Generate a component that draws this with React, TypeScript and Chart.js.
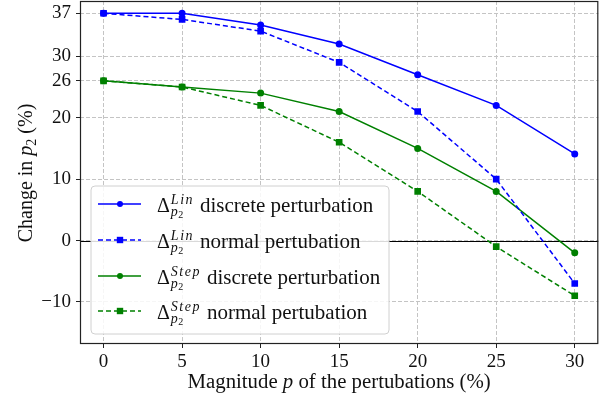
import React, { useEffect, useRef } from "react";
import { Chart, registerables } from "chart.js";
Chart.register(...registerables);

const magnitudes = [0, 5, 10, 15, 20, 25, 30];
const linDiscrete = [37, 37, 35.1, 32, 27, 22, 14.1];
const linNormal = [37, 36, 34.1, 29, 21, 10, -7];
const stepDiscrete = [26, 25, 24, 21, 15, 8, -2];
const stepNormal = [26, 25, 22, 16, 8, -1, -9];
const yTicks = [-10, 0, 10, 20, 26, 30, 37];
const xTicks = [0, 5, 10, 15, 20, 25, 30];

const legendEntries = [
  { sup: "Lin", text: "discrete perturbation", color: "#0000ff", dashed: false, marker: "circle" },
  { sup: "Lin", text: "normal pertubation", color: "#0000ff", dashed: true, marker: "rect" },
  { sup: "Step", text: "discrete perturbation", color: "#008000", dashed: false, marker: "circle" },
  { sup: "Step", text: "normal pertubation", color: "#008000", dashed: true, marker: "rect" },
];

const SERIF = "'Liberation Serif', 'Times New Roman', serif";
const DASH = [5, 3];

function pts(vals: number[]) {
  return magnitudes.map((x, i) => ({ x, y: vals[i] }));
}

function drawMarker(ctx: CanvasRenderingContext2D, kind: string, x: number, y: number, color: string) {
  ctx.fillStyle = color;
  ctx.beginPath();
  if (kind === "circle") ctx.arc(x, y, 3, 0, Math.PI * 2);
  else ctx.rect(x - 3.2, y - 3.2, 6.4, 6.4);
  ctx.fill();
}

const overlay = {
  id: "overlay",
  beforeDatasetsDraw(chart: any) {
    const { ctx, chartArea, scales } = chart;
    const y0 = Math.round(scales.y.getPixelForValue(0)) + 0.5;
    ctx.save();
    ctx.strokeStyle = "#000";
    ctx.lineWidth = 1;
    ctx.beginPath();
    ctx.moveTo(chartArea.left, y0);
    ctx.lineTo(chartArea.right, y0);
    ctx.stroke();
    ctx.restore();
  },
  afterDraw(chart: any) {
    const { ctx, chartArea } = chart;
    ctx.save();
    // frame
    ctx.strokeStyle = "#222";
    ctx.lineWidth = 1.2;
    ctx.strokeRect(chartArea.left + 0.5, chartArea.top + 0.5, chartArea.right - chartArea.left - 1, chartArea.bottom - chartArea.top - 1);

    // legend
    const lx = 91, ly = 186, lw = 298, lh = 148, r = 4;
    ctx.beginPath();
    ctx.moveTo(lx + r, ly);
    ctx.arcTo(lx + lw, ly, lx + lw, ly + lh, r);
    ctx.arcTo(lx + lw, ly + lh, lx, ly + lh, r);
    ctx.arcTo(lx, ly + lh, lx, ly, r);
    ctx.arcTo(lx, ly, lx + lw, ly, r);
    ctx.closePath();
    ctx.fillStyle = "rgba(255,255,255,0.85)";
    ctx.fill();
    ctx.lineWidth = 1;
    ctx.strokeStyle = "#d0d0d0";
    ctx.stroke();

    const rows = [204, 240, 276, 311];
    legendEntries.forEach((e, i) => {
      const ry = rows[i];
      ctx.strokeStyle = e.color;
      ctx.lineWidth = 1.5;
      ctx.setLineDash(e.dashed ? DASH : []);
      ctx.beginPath();
      ctx.moveTo(98, ry);
      ctx.lineTo(141, ry);
      ctx.stroke();
      ctx.setLineDash([]);
      drawMarker(ctx, e.marker, 120, ry, e.color);

      ctx.fillStyle = "#111";
      ctx.textBaseline = "alphabetic";
      ctx.textAlign = "left";
      ctx.font = `20px ${SERIF}`;
      ctx.fillText("Δ", 157, ry + 8);
      const dx = 157 + ctx.measureText("Δ").width + 1;
      ctx.font = `italic 14px ${SERIF}`;
      (ctx as any).letterSpacing = "1.5px";
      ctx.fillText(e.sup, dx, ry);
      const supW = ctx.measureText(e.sup).width;
      (ctx as any).letterSpacing = "0px";
      ctx.fillText("p", dx, ry + 12);
      const pW = ctx.measureText("p").width;
      ctx.font = `10px ${SERIF}`;
      ctx.fillText("2", dx + pW + 0.5, ry + 14);
      const subW = pW + 0.5 + ctx.measureText("2").width;
      ctx.font = `21px ${SERIF}`;
      ctx.fillText(e.text, dx + Math.max(supW, subW) + 6, ry + 8);
    });

    // x title
    ctx.fillStyle = "#111";
    ctx.textBaseline = "alphabetic";
    const parts: [string, string][] = [
      ["Magnitude ", `20.8px ${SERIF}`],
      ["p", `italic 20.8px ${SERIF}`],
      [" of the pertubations (%)", `20.8px ${SERIF}`],
    ];
    let total = 0;
    parts.forEach(([t, f]) => { ctx.font = f; total += ctx.measureText(t).width; });
    let x = (chartArea.left + chartArea.right) / 2 - total / 2;
    parts.forEach(([t, f]) => { ctx.font = f; ctx.fillText(t, x, 388); x += ctx.measureText(t).width; });

    // y title
    ctx.save();
    ctx.translate(31.5, 173);
    ctx.rotate(-Math.PI / 2);
    const yparts: [string, string, number][] = [
      ["Change in ", `20px ${SERIF}`, 0],
      ["p", `italic 20px ${SERIF}`, 0],
      ["2", `14px ${SERIF}`, 4],
      [" (%)", `20px ${SERIF}`, 0],
    ];
    total = 0;
    yparts.forEach(([t, f]) => { ctx.font = f; total += ctx.measureText(t).width; });
    x = -total / 2;
    yparts.forEach(([t, f, dy]) => { ctx.font = f; ctx.fillText(t, x, dy); x += ctx.measureText(t).width; });
    ctx.restore();

    ctx.restore();
  },
};

export default function App() {
  const ref = useRef<HTMLCanvasElement>(null);
  useEffect(() => {
    document.body.style.margin = "0";
    const ds = (label: string, vals: number[], color: string, dashed: boolean, marker: string) => ({
      label,
      data: pts(vals),
      borderColor: color,
      backgroundColor: color,
      borderWidth: 1.5,
      borderDash: dashed ? DASH : [],
      pointStyle: marker,
      pointRadius: marker === "circle" ? 3.5 : 4.7,
      pointBorderWidth: 0,
      tension: 0,
    });
    const gridCommon = {
      color: "#c4c4c4",
      lineWidth: 1,
      tickLength: 4,
      tickColor: "#222",
      tickBorderDash: [],
    };
    const chart = new Chart(ref.current!, {
      type: "line",
      data: {
        datasets: [
          ds("lin discrete", linDiscrete, "#0000ff", false, "circle"),
          ds("lin normal", linNormal, "#0000ff", true, "rect"),
          ds("step discrete", stepDiscrete, "#008000", false, "circle"),
          ds("step normal", stepNormal, "#008000", true, "rect"),
        ],
      },
      options: {
        animation: false,
        responsive: false,
        layout: { padding: { top: 1, right: 4, left: 0, bottom: 0 } },
        plugins: { legend: { display: false }, tooltip: { enabled: false } },
        scales: {
          x: {
            type: "linear",
            min: -1.5,
            max: 31.5,
            afterBuildTicks: (s: any) => { s.ticks = xTicks.map((v) => ({ value: v })); },
            afterFit: (s: any) => { s.height = 54; s.paddingLeft = 0; s.paddingRight = 0; },
            grid: gridCommon,
            border: { display: false, dash: [4, 2] },
            ticks: { color: "#111", font: { family: SERIF, size: 19 }, padding: 3, maxRotation: 0 },
          },
          y: {
            type: "linear",
            min: -16.85,
            max: 39,
            afterBuildTicks: (s: any) => { s.ticks = yTicks.map((v) => ({ value: v })); },
            afterFit: (s: any) => { s.width = 80; s.paddingTop = 0; s.paddingBottom = 0; },
            grid: gridCommon,
            border: { display: false, dash: [4, 2] },
            ticks: { color: "#111", font: { family: SERIF, size: 19 }, padding: 5, callback: (v: any) => (v < 0 ? "−" + Math.abs(v) : String(v)) },
          },
        },
      },
      plugins: [
        overlay,
        {
          id: "fixArea",
          afterLayout(chart: any) {
            const a = chart.chartArea;
            const top = 1, bottom = 344;
            a.top = top; a.bottom = bottom; a.height = bottom - top;
            const ys = chart.scales.y;
            ys.top = top; ys.bottom = bottom; ys.height = bottom - top;
            ys.configure();
            const xs = chart.scales.x;
            xs.top = bottom; xs.bottom = bottom + 54;
          },
        },
      ],
    } as any);
    return () => chart.destroy();
  }, []);
  return (
    <div style={{ width: 603, height: 398 }}>
      <canvas ref={ref} width={603} height={398} style={{ display: "block" }} />
    </div>
  );
}
